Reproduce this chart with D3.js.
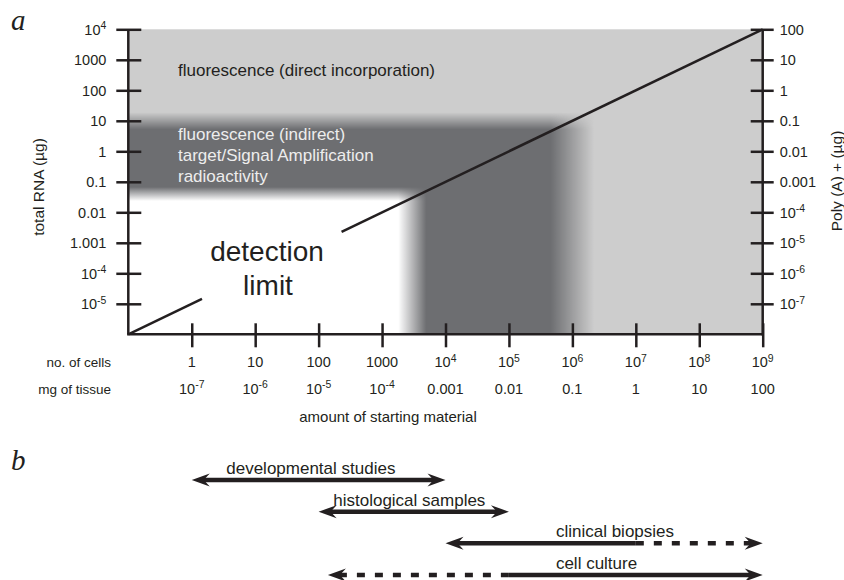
<!DOCTYPE html>
<html><head><meta charset="utf-8">
<script src="https://cdn.jsdelivr.net/npm/d3@7"></script>
<style>
body{margin:0;background:#fff}
svg{display:block}
text{font-family:"Liberation Sans",Arial,Helvetica,sans-serif;fill:#231f20}
</style>
</head><body>
<svg id="c" width="844" height="580"></svg>
<script>
// ---------- data ----------
const cellDomain = [0.1, 1e9];
const rnaDomain = [1e-6, 1e4];
const polyADomain = [1e-8, 100];

const cellTicks = [1, 10, 100, 1000, 1e4, 1e5, 1e6, 1e7, 1e8, 1e9];
const cellLabels = ["1", "10", "100", "1000", "10^4", "10^5", "10^6", "10^7", "10^8", "10^9"];
const tissueLabels = ["10^-7", "10^-6", "10^-5", "10^-4", "0.001", "0.01", "0.1", "1", "10", "100"];

const rnaTicks = [1e4, 1000, 100, 10, 1, 0.1, 0.01, 0.001, 1e-4, 1e-5];
const rnaLabels = ["10^4", "1000", "100", "10", "1", "0.1", "0.01", "1.001", "10^-4", "10^-5"];

const polyATicks = [100, 10, 1, 0.1, 0.01, 0.001, 1e-4, 1e-5, 1e-6, 1e-7];
const polyALabels = ["100", "10", "1", "0.1", "0.01", "0.001", "10^-4", "10^-5", "10^-6", "10^-7"];

// detection methods: minimal total RNA (µg) and minimal no. of cells
const methodNames = ["fluorescence (direct incorporation)", "fluorescence (indirect)|target/Signal Amplification|radioactivity"];
const methodMinRNA = [10, 0.04];
const methodMinCells = [1e6, 3000];

// detection limit line (cells, µg total RNA), two segments around the label
const limitCells1 = [0.1, 1.45];
const limitRNA1 = [1e-6, 1.45e-5];
const limitCells2 = [230, 1e9];
const limitRNA2 = [2.3e-3, 1e4];

// panel b: applications (no. of cells)
const apps = ["developmental studies", "histological samples", "clinical biopsies", "cell culture"];
const appFrom = [1, 100, 1e4, 140];
const appTo = [1e4, 1e5, 1e9, 1e9];
const appDashFrom = [null, null, 1e7, 140];
const appDashTo = [null, null, 1e9, 1e5];
const appLabelAt = [3.5, 170, 5.5e5, 5.5e5];

// ---------- drawing ----------
const W = 844, H = 580;
const svg = d3.select("#c");
const ink = "#231f20", light = "#cdcdcd", dark = "#6d6e71";

const x = d3.scaleLog().domain(cellDomain).range([128.3, 762.7]);
const y = d3.scaleLog().domain(rnaDomain).range([334.3, 29.3]);
const y2 = d3.scaleLog().domain(polyADomain).range([334.3, 29.3]);

const defs = svg.append("defs");
function fadeMask(id, horizontal, pos, half, fadeOutward) {
  // horizontal: fade along x; fadeOutward: opaque before pos, transparent after
  const g = defs.append("linearGradient").attr("id", id + "g").attr("gradientUnits", "userSpaceOnUse");
  if (horizontal) g.attr("x1", pos - half).attr("x2", pos + half).attr("y1", 0).attr("y2", 0);
  else g.attr("y1", pos - half).attr("y2", pos + half).attr("x1", 0).attr("x2", 0);
  g.append("stop").attr("offset", 0).attr("stop-color", fadeOutward ? "#fff" : "#000");
  g.append("stop").attr("offset", 1).attr("stop-color", fadeOutward ? "#000" : "#fff");
  defs.append("mask").attr("id", id).attr("maskUnits", "userSpaceOnUse")
    .attr("x", 0).attr("y", 0).attr("width", W).attr("height", H)
    .append("rect").attr("width", W).attr("height", H).attr("fill", `url(#${id}g)`);
}

const x0 = x(cellDomain[0]), x1 = x(cellDomain[1]);
const yb = y(rnaDomain[0]), yt = y(rnaDomain[1]);

// light gray: whole field
svg.append("rect").attr("x", x0).attr("y", yt).attr("width", x1 - x0).attr("height", yb - yt).attr("fill", light);

// dark: below method-1 limits
const dHalfX = 21.5, dHalfY = 8.5;
fadeMask("mDR", true, x(methodMinCells[0]), dHalfX, true);
fadeMask("mDT", false, y(methodMinRNA[0]), dHalfY, false);
svg.append("g").attr("mask", "url(#mDR)").append("rect")
  .attr("mask", "url(#mDT)")
  .attr("x", x0).attr("y", y(methodMinRNA[0]) - dHalfY)
  .attr("width", x(methodMinCells[0]) + dHalfX - x0)
  .attr("height", yb - y(methodMinRNA[0]) + dHalfY)
  .attr("fill", dark);

// white: below method-2 limits
const wHalfX = 14, wHalfY = 7;
fadeMask("mWR", true, x(methodMinCells[1]), wHalfX, true);
fadeMask("mWT", false, y(methodMinRNA[1]), wHalfY, false);
svg.append("g").attr("mask", "url(#mWR)").append("rect")
  .attr("mask", "url(#mWT)")
  .attr("x", x0).attr("y", y(methodMinRNA[1]) - wHalfY)
  .attr("width", x(methodMinCells[1]) + wHalfX - x0)
  .attr("height", yb - y(methodMinRNA[1]) + wHalfY)
  .attr("fill", "#fff");

// method labels
svg.append("text").attr("x", 178).attr("y", 76).attr("font-size", 17).text(methodNames[0]);
methodNames[1].split("|").forEach((t, i) => {
  svg.append("text").attr("x", 178).attr("y", 140 + i * 21).attr("font-size", 17)
    .style("fill", "#ededed").text(t);
});

// detection limit line
const line = d3.line().x(d => x(d[0])).y(d => y(d[1]));
[[limitCells1, limitRNA1], [limitCells2, limitRNA2]].forEach(([cs, rs]) => {
  svg.append("path").attr("d", line(cs.map((c, i) => [c, rs[i]])))
    .attr("fill", "none").attr("stroke", ink).attr("stroke-width", 2.5);
});
svg.append("text").attr("x", 267).attr("y", 261).attr("text-anchor", "middle").attr("font-size", 28).text("detection");
svg.append("text").attr("x", 268).attr("y", 295).attr("text-anchor", "middle").attr("font-size", 28).text("limit");

// label helper with superscripts
function setLabel(sel, s) {
  const parts = s.split("^");
  sel.append("tspan").text(parts[0]);
  if (parts.length > 1) {
    sel.append("tspan").attr("font-size", "0.72em").attr("dy", "-0.5em").text(parts[1]);
  }
}

// axes
function crossTicks(g, len) {
  g.selectAll(".tick line").attr("x1", -len).attr("x2", len).attr("stroke", ink).attr("stroke-width", 2.5);
}
const gL = svg.append("g").attr("transform", `translate(${x0},0)`)
  .call(d3.axisLeft(y).tickValues(rnaTicks).tickFormat("").tickSizeOuter(0));
gL.select(".domain").attr("stroke", ink).attr("stroke-width", 2.5).attr("d", `M0,${yt}V${yb}`);
gL.selectAll(".tick line").attr("x1", -12).attr("x2", 13).attr("stroke", ink).attr("stroke-width", 2.5);

const gR = svg.append("g").attr("transform", `translate(${x1},0)`)
  .call(d3.axisRight(y2).tickValues(polyATicks).tickFormat("").tickSizeOuter(0));
gR.select(".domain").attr("stroke", ink).attr("stroke-width", 2.5).attr("d", `M0,${yt}V${yb + 1.2}`);
gR.selectAll(".tick line").attr("x1", -12).attr("x2", 11).attr("stroke", ink).attr("stroke-width", 2.5);

const gB = svg.append("g").attr("transform", `translate(0,${yb})`)
  .call(d3.axisBottom(x).tickValues(cellTicks).tickFormat("").tickSizeOuter(0));
gB.select(".domain").attr("stroke", ink).attr("stroke-width", 2.5).attr("d", `M${x0 - 1.2},0H${x1 + 1.2}`);
gB.selectAll(".tick line").attr("y1", -11).attr("y2", 13).attr("stroke", ink).attr("stroke-width", 2.5);

// tick labels
rnaTicks.forEach((v, i) => {
  const t = svg.append("text").attr("x", x0 - 22).attr("y", y(v)).attr("dy", "0.36em")
    .attr("text-anchor", "end").attr("font-size", 14.5);
  setLabel(t, rnaLabels[i]);
});
polyATicks.forEach((v, i) => {
  const t = svg.append("text").attr("x", x1 + 17).attr("y", y2(v)).attr("dy", "0.36em")
    .attr("font-size", 14.5);
  setLabel(t, polyALabels[i]);
});
cellTicks.forEach((v, i) => {
  const t1 = svg.append("text").attr("x", x(v)).attr("y", 367).attr("text-anchor", "middle").attr("font-size", 14.5);
  setLabel(t1, cellLabels[i]);
  const t2 = svg.append("text").attr("x", x(v)).attr("y", 393.5).attr("text-anchor", "middle").attr("font-size", 14.5);
  setLabel(t2, tissueLabels[i]);
});
svg.append("text").attr("x", 111).attr("y", 367).attr("text-anchor", "end").attr("font-size", 13.5).text("no. of cells");
svg.append("text").attr("x", 111).attr("y", 393.5).attr("text-anchor", "end").attr("font-size", 13.5).text("mg of tissue");
svg.append("text").attr("x", 388).attr("y", 422).attr("text-anchor", "middle").attr("font-size", 15).text("amount of starting material");

svg.append("text").attr("transform", "translate(38.5,187) rotate(-90)").attr("dy", "0.35em")
  .attr("text-anchor", "middle").attr("font-size", 15.5).text("total RNA (µg)");
svg.append("text").attr("transform", "translate(836.5,181) rotate(-90)").attr("dy", "0.35em")
  .attr("text-anchor", "middle").attr("font-size", 15.5).text("Poly (A) + (µg)");

// panel letters
svg.append("text").attr("x", 11).attr("y", 30).attr("font-size", 29)
  .style("font-family", "'Liberation Serif','Times New Roman',serif").style("font-style", "italic").text("a");
svg.append("text").attr("x", 11).attr("y", 470).attr("font-size", 29)
  .style("font-family", "'Liberation Serif','Times New Roman',serif").style("font-style", "italic").text("b");

// panel b arrows
const row = d3.scalePoint().domain(apps).range([480, 575]);
const headL = 18, headW = 6.5, headN = 12;
function head(tx, ty, dir) {
  return `M${tx},${ty}L${tx + dir * headL},${ty - headW}L${tx + dir * headN},${ty}L${tx + dir * headL},${ty + headW}Z`;
}
apps.forEach((name, i) => {
  const ry = row(name);
  const g = svg.append("g");
  const a = x(appFrom[i]), b = x(appTo[i]);
  let solid = [a, b], dash = null;
  if (appDashFrom[i] !== null) {
    const da = x(appDashFrom[i]), db = x(appDashTo[i]);
    dash = [da, db];
    solid = (appDashFrom[i] === appFrom[i]) ? [db, b] : [a, da];
  }
  const clip = v => Math.min(Math.max(v, a + headN - 1), b - headN + 1);
  g.append("line").attr("x1", clip(solid[0])).attr("x2", clip(solid[1])).attr("y1", ry).attr("y2", ry)
    .attr("stroke", ink).attr("stroke-width", 4.5);
  if (dash) {
    g.append("line").attr("x1", clip(dash[0])).attr("x2", clip(dash[1])).attr("y1", ry).attr("y2", ry)
      .attr("stroke", ink).attr("stroke-width", 4.5).attr("stroke-dasharray", "8,10");
  }
  g.append("path").attr("d", head(a, ry, 1)).attr("fill", ink);
  g.append("path").attr("d", head(b, ry, -1)).attr("fill", ink);
  svg.append("text").attr("x", x(appLabelAt[i])).attr("y", ry - 6).attr("font-size", 17).text(name);
});
</script>
</body></html>
